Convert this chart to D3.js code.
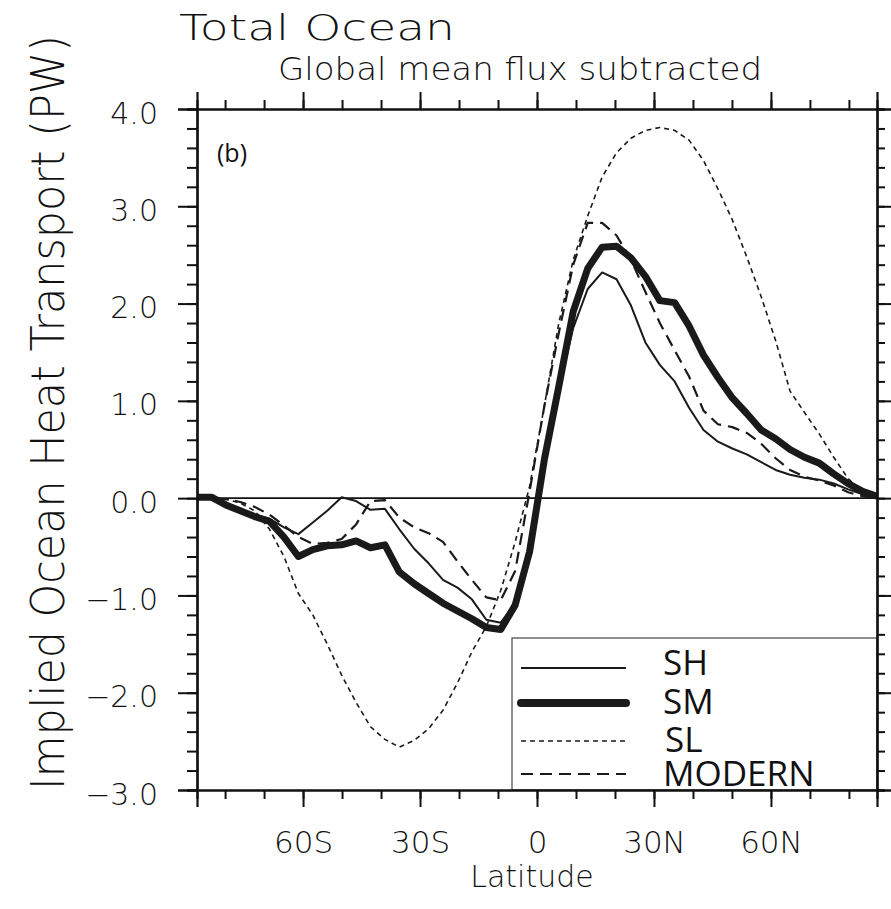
<!DOCTYPE html>
<html>
<head>
<meta charset="utf-8">
<script src="https://cdn.jsdelivr.net/npm/d3@7"></script>
<style>
  body { margin: 0; background: #fff; }
  .hersh { font-family: "DejaVu Sans ExtraLight", "DejaVu Sans", sans-serif; font-weight: 200; fill: #111; }
  .myriad { font-family: "Open Sans", "Noto Sans", sans-serif; fill: #111; }
</style>
</head>
<body>
<svg id="chart"></svg>
<script>
// latitude grid (deg, negative = south)
const lats = [-87.2,-83.5,-79.8,-76.1,-72.4,-68.6,-64.9,-61.2,-57.5,-53.8,-50.1,-46.4,
  -42.7,-39.0,-35.3,-31.5,-27.8,-24.1,-20.4,-16.7,-13.0,-9.3,-5.6,-1.9,
  1.9,5.6,9.3,13.0,16.7,20.4,24.1,27.8,31.5,35.3,39.0,42.7,
  46.4,50.1,53.8,57.5,61.2,64.9,68.6,72.4,76.1,79.8,83.5,87.2];

// implied ocean heat transport (PW)
const sh = [0.01,0.01,-0.07,-0.12,-0.17,-0.21,-0.30,-0.37,-0.25,-0.13,0.01,-0.03,
  -0.12,-0.11,-0.32,-0.52,-0.67,-0.84,-0.92,-1.04,-1.25,-1.28,-1.08,-0.50,
  0.38,1.12,1.75,2.15,2.32,2.25,1.98,1.60,1.37,1.20,0.93,0.70,
  0.58,0.51,0.45,0.37,0.29,0.24,0.21,0.19,0.15,0.09,0.04,0.01];
const sm = [0.01,0.01,-0.07,-0.13,-0.19,-0.24,-0.40,-0.60,-0.53,-0.49,-0.48,-0.44,
  -0.51,-0.48,-0.76,-0.88,-0.98,-1.08,-1.16,-1.24,-1.33,-1.35,-1.10,-0.55,
  0.40,1.15,1.92,2.36,2.58,2.59,2.47,2.28,2.03,2.01,1.77,1.47,
  1.24,1.03,0.87,0.70,0.61,0.50,0.42,0.36,0.25,0.15,0.07,0.02];
const sl = [0.0,0.0,-0.01,-0.05,-0.13,-0.32,-0.60,-0.98,-1.20,-1.50,-1.82,-2.10,
  -2.35,-2.48,-2.56,-2.49,-2.37,-2.18,-1.90,-1.58,-1.32,-0.95,-0.45,0.12,
  0.95,1.80,2.45,2.90,3.30,3.55,3.70,3.78,3.81,3.78,3.68,3.47,
  3.18,2.86,2.48,2.07,1.62,1.10,0.88,0.66,0.42,0.20,0.07,0.0];
const modern = [0.01,0.0,-0.01,-0.04,-0.09,-0.17,-0.28,-0.40,-0.47,-0.46,-0.42,-0.27,
  -0.03,-0.02,-0.20,-0.30,-0.36,-0.45,-0.65,-0.84,-1.02,-1.05,-0.75,0.07,
  0.95,1.70,2.40,2.83,2.83,2.70,2.45,2.12,1.80,1.52,1.25,0.90,
  0.76,0.73,0.67,0.56,0.41,0.29,0.22,0.18,0.13,0.06,0.02,0.0];

const seriesNames = ["SH", "SM", "SL", "MODERN"];
const xTicks = [-60, -30, 0, 30, 60];
const xTickLabels = ["60S", "30S", "0", "30N", "60N"];
const yTicks = [-3, -2, -1, 0, 1, 2, 3, 4];

const W = 891, H = 909;
const margin = {top: 109, right: 14, bottom: 119, left: 197};
const pw = W - margin.left - margin.right;
const ph = H - margin.top - margin.bottom;

const svg = d3.select("#chart").attr("width", W).attr("height", H);
const g = svg.append("g").attr("transform", `translate(${margin.left},${margin.top})`);

const x = d3.scaleLinear().domain([-87.2, 87.2]).range([0, pw]);
const y = d3.scaleLinear().domain([-3, 4]).range([ph, 0]);

const styles = {
  SH: {w: 2, dash: null},
  SM: {w: 7, dash: null},
  SL: {w: 1.6, dash: "5,4"},
  MODERN: {w: 2.2, dash: "12,7"}
};
const values = {SH: sh, SM: sm, SL: sl, MODERN: modern};

// zero line
g.append("line")
  .attr("x1", 0).attr("x2", pw)
  .attr("y1", y(0)).attr("y2", y(0))
  .attr("stroke", "#111").attr("stroke-width", 1.6);

const line = d3.line()
  .x(d => x(d[0]))
  .y(d => y(d[1]));

// draw thin ones over the thick one
["SM", "SL", "MODERN", "SH"].forEach(name => {
  const pts = lats.map((la, i) => [la, values[name][i]]);
  g.append("path")
    .datum(pts)
    .attr("fill", "none")
    .attr("stroke", "#1a1a1a")
    .attr("stroke-width", styles[name].w)
    .attr("stroke-linejoin", "round")
    .attr("stroke-dasharray", styles[name].dash)
    .attr("d", line);
});

// legend box
const lg = g.append("g").attr("transform", `translate(${512 - margin.left},${638 - margin.top})`);
lg.append("rect")
  .attr("width", 877 - 512).attr("height", 790 - 638)
  .attr("fill", "#fff").attr("stroke", "#444").attr("stroke-width", 1.2);
const legY = [30, 65, 103, 136];
const legTextY = [37, 76, 114, 148];
seriesNames.forEach((name, i) => {
  lg.append("line")
    .attr("x1", 9).attr("x2", 114)
    .attr("y1", legY[i]).attr("y2", legY[i])
    .attr("stroke", "#1a1a1a")
    .attr("stroke-width", name === "SM" ? 8 : styles[name].w)
    .attr("stroke-linecap", name === "SM" ? "round" : "butt")
    .attr("stroke-dasharray", styles[name].dash);
  lg.append("text")
    .attr("class", "myriad")
    .attr("x", name === "SL" ? 153 : 151).attr("y", legTextY[i])
    .style("font-size", "35px")
    .text(name);
});

// axes
const yMinor = d3.range(-3, 4.001, 0.2).map(v => +v.toFixed(1));
const xMinor = d3.range(-80, 81, 10);

function drawAxis(axisFn, scale, major, minor, bigSize, smallSize, transform, labels) {
  const gm = g.append("g").attr("transform", transform);
  gm.call(axisFn(scale).tickValues(minor).tickSize(smallSize).tickFormat(""));
  const ga = g.append("g").attr("transform", transform);
  ga.call(axisFn(scale).tickValues(major).tickSize(bigSize).tickPadding(0)
    .tickFormat(labels ? labels : ""));
  [gm, ga].forEach(a => {
    a.selectAll("path").attr("stroke", "#111").attr("stroke-width", 2.2);
    a.selectAll(".tick line").attr("stroke", "#111").attr("stroke-width", 2);
  });
  return ga;
}

const gl = drawAxis(d3.axisLeft, y, yTicks, yMinor, 19, 10, "translate(0,0)",
  d => (d < 0 ? "\u2212" + Math.abs(d).toFixed(1) : d.toFixed(1)));
gl.selectAll(".tick text")
  .attr("class", "hersh")
  .attr("x", -39).attr("dy", "0.47em")
  .style("font-size", "30px").attr("font-family", null);

drawAxis(d3.axisRight, y, yTicks, yMinor, 14, 8, `translate(${pw},0)`, null);
drawAxis(d3.axisTop, x, xTicks, xMinor, 17, 9, "translate(0,0)", null);

const gb = drawAxis(d3.axisBottom, x, xTicks, xMinor, 17, 9, `translate(0,${ph})`,
  (d, i) => xTickLabels[i]);
gb.selectAll(".tick text")
  .attr("class", "hersh")
  .attr("y", 41).attr("dy", "0.71em")
  .style("font-size", "31px").attr("font-family", null);

// panel tag
g.append("text").attr("class", "myriad")
  .attr("x", 217 - margin.left).attr("y", 162 - margin.top)
  .style("font-size", "25px").text("(b)");

// titles
svg.append("text").attr("class", "hersh")
  .attr("x", 179).attr("y", 40)
  .attr("textLength", 276).attr("lengthAdjust", "spacingAndGlyphs")
  .style("font-size", "36px").text("Total Ocean");
svg.append("text").attr("class", "hersh")
  .attr("x", 278).attr("y", 80)
  .attr("textLength", 484).attr("lengthAdjust", "spacingAndGlyphs")
  .style("font-size", "32px").text("Global mean flux subtracted");

svg.append("text").attr("class", "hersh")
  .attr("x", 532).attr("y", 887)
  .attr("text-anchor", "middle")
  .style("font-size", "30px").text("Latitude");

// y label: narrow, tall lettering -> squeeze along the text direction
const yl = svg.append("text").attr("class", "hersh")
  .style("font-size", "36px").text("Implied Ocean Heat Transport (PW)");
const natural = yl.node().getComputedTextLength();
yl.attr("transform", `translate(64,790) rotate(-90) scale(${755 / natural},${47 / 36})`);
</script>
</body>
</html>
